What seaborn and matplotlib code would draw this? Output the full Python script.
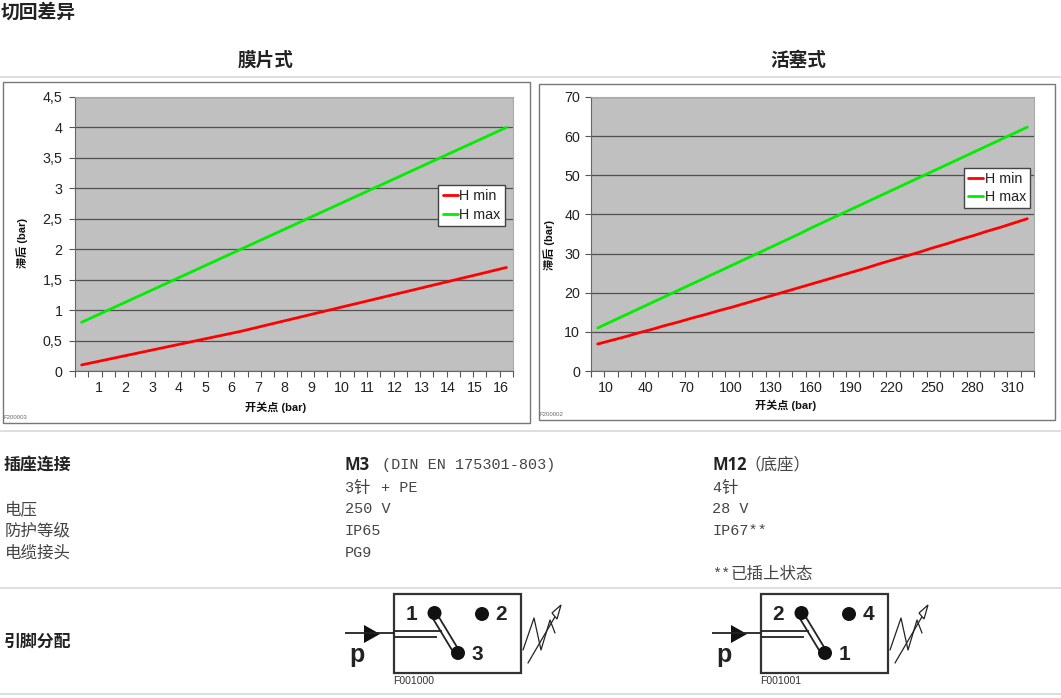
#!/usr/bin/env python3
import matplotlib
matplotlib.use('Agg')
import matplotlib.pyplot as plt
from matplotlib.patches import Circle, Polygon, Rectangle
import numpy as np
import pandas as pd
import seaborn as sns

W, H = 1061, 698

# diaphragm chart
left_labels = ['1', '2', '3', '4', '5', '6', '7', '8', '9', '10', '11', '12',
               '13', '14', '15', '16']
left_min = [0.100, 0.146, 0.192, 0.238, 0.284, 0.330, 0.376, 0.422, 0.468,
            0.514, 0.560, 0.606, 0.652, 0.704, 0.757, 0.809, 0.861, 0.914,
            0.966, 1.018, 1.071, 1.123, 1.175, 1.228, 1.280, 1.332, 1.385,
            1.437, 1.489, 1.542, 1.594, 1.647, 1.700]
left_max = [0.8, 0.9, 1.0, 1.1, 1.2, 1.3, 1.4, 1.5, 1.6, 1.7, 1.8, 1.9, 2.0,
            2.1, 2.2, 2.3, 2.4, 2.5, 2.6, 2.7, 2.8, 2.9, 3.0, 3.1, 3.2, 3.3,
            3.4, 3.5, 3.6, 3.7, 3.8, 3.9, 4.0]
left_yticks = [0, 0.5, 1, 1.5, 2, 2.5, 3, 3.5, 4, 4.5]
left_ylabels = ['0', '0,5', '1', '1,5', '2', '2,5', '3', '3,5', '4', '4,5']

# piston chart
right_labels = ['10', '40', '70', '100', '130', '160', '190', '220', '250',
                '280', '310']
right_min = [6.9, 7.8, 8.7, 9.7, 10.6, 11.6, 12.5, 13.5, 14.4, 15.4, 16.3,
             17.3, 18.3, 19.3, 20.3, 21.3, 22.3, 23.3, 24.3, 25.3, 26.3, 27.4,
             28.4, 29.4, 30.4, 31.5, 32.5, 33.6, 34.6, 35.7, 36.7, 37.8, 38.9]
right_max = [11.0, 12.6, 14.2, 15.8, 17.4, 19.0, 20.6, 22.2, 23.8, 25.4, 27.0,
             28.6, 30.2, 31.8, 33.4, 35.0, 36.7, 38.3, 39.9, 41.5, 43.1, 44.7,
             46.3, 47.9, 49.5, 51.1, 52.7, 54.3, 55.9, 57.5, 59.1, 60.7, 62.3]
right_yticks = [0, 10, 20, 30, 40, 50, 60, 70]

sns.set_theme(style='white')
plt.rcParams['font.family'] = ['Liberation Sans', 'Noto Sans CJK SC']
plt.rcParams['axes.unicode_minus'] = False

CJK = 'Noto Sans CJK SC'
BODY = '#444444'
PALETTE = {'H min': '#ff0000', 'H max': '#00ee00'}

fig = plt.figure(figsize=(W / 100, H / 100), dpi=100, facecolor='white')

# page layer in pixel coordinates
bg = fig.add_axes([0, 0, 1, 1])
bg.set_xlim(0, W)
bg.set_ylim(H, 0)
bg.axis('off')


def draw_chart(box, frame, lo, hi, yticks, ylabels, xlabels, step, ymax,
               legend_c, xlabel_pos, ylabel_pos, code, ypad):
    l, t, r, b = box
    fl, ft, fr, fb = frame
    bg.add_patch(Rectangle((fl, ft), fr - fl, fb - ft, fc='white', ec='#777777',
                           lw=1))
    bg.text(fl + 0.5, fb - 5, code, fontsize=4.3, color='#666666', va='center')

    ax = fig.add_axes([l / W, 1 - b / H, (r - l) / W, (b - t) / H])
    df = pd.DataFrame({'pos': np.arange(len(lo)), 'H min': lo, 'H max': hi})
    df = df.melt('pos', var_name='series', value_name='value')
    sns.lineplot(data=df, x='pos', y='value', hue='series', palette=PALETTE,
                 linewidth=2, ax=ax, zorder=3)
    for line in ax.get_lines():
        line.set_snap(False)

    ax.set_facecolor('#c0c0c0')
    ax.set_xlim(-0.5, len(lo) - 0.5)
    ax.set_ylim(0, ymax)
    ax.set_yticks(yticks, labels=ylabels)
    ax.set_xticks(np.arange(len(lo) + 1) - 0.5, labels=[])
    pos = np.arange(len(xlabels)) * step + (step - 1 if step == 2 else 0)
    ax.set_xticks(pos, labels=xlabels, minor=True, ha='left')
    ax.tick_params(axis='x', which='major', length=4, width=0.8, color='#555555',
                   direction='out', bottom=True)
    ax.tick_params(axis='x', which='minor', length=0, pad=7, labelsize=10.3,
                   labelcolor='#222222')
    ax.tick_params(axis='y', length=4, width=0.8, color='#555555', left=True,
                   pad=ypad, labelsize=10.3, labelcolor='#222222')
    ax.grid(axis='y', color='#505050', lw=0.9)
    ax.grid(axis='x', visible=False)
    ax.set_axisbelow(True)
    for side in ('left', 'bottom'):
        ax.spines[side].set_color('#666666')
        ax.spines[side].set_linewidth(0.8)
    for side in ('top', 'right'):
        ax.spines[side].set_color('#aaaaaa')
        ax.spines[side].set_linewidth(0.8)

    ax.set_xlabel('开关点 (bar)', fontsize=8, fontweight='bold', color='#111111')
    ax.set_ylabel('滞后 (bar)', fontsize=8, fontweight='bold', color='#111111')
    ax.xaxis.set_label_coords((xlabel_pos[0] - l) / (r - l),
                              (b - xlabel_pos[1] + 6) / (b - t))
    ax.yaxis.set_label_coords((ylabel_pos[0] + 5 - l) / (r - l),
                              (b - ylabel_pos[1]) / (b - t))

    handles, names = ax.get_legend_handles_labels()
    ax.legend(handles, names, loc='center', frameon=True, fancybox=False,
              framealpha=1, facecolor='white', edgecolor='#444444',
              fontsize=10.3, handlelength=1.05, handletextpad=0.12,
              labelspacing=0.3, borderpad=0.3, borderaxespad=0,
              labelcolor='#222222',
              bbox_to_anchor=((legend_c[0] - l) / (r - l),
                              (b - legend_c[1]) / (b - t)))
    return ax


draw_chart((75, 97, 513, 371), (3, 81.5, 529.5, 422.5), left_min, left_max,
           left_yticks, left_ylabels, left_labels, 2, 4.5, (471.5, 205.5),
           (276, 408), (23, 243), 'F200003', 5)
draw_chart((591, 97, 1034, 371), (538.5, 83.5, 1054.5, 419.5), right_min,
           right_max, right_yticks, [str(v) for v in right_yticks], right_labels,
           3, 70, (997, 188), (786, 406), (550, 245), 'F200002', 4)

# separators
for y in (77, 431, 588, 694):
    bg.plot([0, W], [y, y], color='#d8d8d8', lw=1.2, solid_capstyle='butt')


def head(x, y, s, size=12.2, **kw):
    bg.text(x, y, s, fontsize=size, fontweight='bold', family=CJK,
            color='#222222', va='center', **kw)


def body(x, y, s):
    # half width latin next to full width hanzi, like the original page font
    bg.text(x, y, s, fontsize=10.9, family=['Liberation Mono', CJK], color=BODY,
            va='center')


def hanzi(x, y, s):
    bg.text(x, y, s, fontsize=11.9, family=CJK, color=BODY, va='center')


head(1, 12, '切回差异', 13.5)
head(266, 60, '膜片式', 13.4, ha='center')
head(798, 60, '活塞式', 13.4, ha='center')
head(4, 465.5, '插座连接')
head(4, 641.5, '引脚分配')

hanzi(5, 510, '电压')
hanzi(5, 531, '防护等级')
hanzi(5, 553, '电缆接头')

bg.text(345, 465, 'M3', fontsize=12, fontweight='bold', family='Open Sans',
        color='#222222', va='center')
body(382, 465, '(DIN EN 175301-803)')
body(345, 488, '3')
hanzi(354, 488, '针')
body(381, 488, '+ PE')
body(345, 509, '250 V')
body(345, 531, 'IP65')
body(345, 553, 'PG9')

bg.text(712, 465, 'M12', fontsize=12, fontweight='bold', family='Open Sans',
        color='#222222', va='center')
hanzi(745, 465, '（底座）')
body(712, 488, '4')
hanzi(721, 488, '针')
body(712, 509, '28 V')
body(712, 531, 'IP67**')
body(712, 574, '**')
hanzi(731, 574, '已插上状态')


def schematic(dx, pins, code):
    k = dict(color='#222222', lw=1.3, solid_capstyle='butt')
    bg.add_patch(Rectangle((394 + dx, 594), 127, 79, fc='white', ec='#333333',
                           lw=1.6))
    bg.plot([345 + dx, 394 + dx], [633, 633], **k)
    bg.add_patch(Polygon([(364 + dx, 625), (380 + dx, 634), (364 + dx, 643)],
                         fc='#111111', ec='none'))
    bg.plot([394 + dx, 442 + dx], [631, 631], **k)
    bg.plot([394 + dx, 437 + dx], [637, 637], **k)
    bg.plot([432 + dx, 455 + dx], [617, 655], **k)
    bg.plot([437 + dx, 460 + dx], [614, 652], **k)
    for x, y in ((434.5, 613), (482, 614), (458, 653)):
        bg.add_patch(Circle((x + dx, y), 7, fc='#111111', ec='none', zorder=4))
    for (x, y), s in zip(((411.5, 614), (501, 614), (477, 655)), pins):
        bg.text(x + dx, y, s, fontsize=15, fontweight='bold', color='#222222',
                ha='center', va='center')
    bg.text(357 + dx, 655, 'p', fontsize=18, fontweight='bold', color='#222222',
            ha='center', va='center')
    bg.text(393 + dx, 681, code, fontsize=7.6, color='#333333', va='center')
    # adjustable spring
    n = dict(color='#222222', lw=0.9)
    bg.plot(np.array([523, 534, 541, 550, 555]) + dx, [650, 618, 650, 620, 633],
            **n)
    bg.plot(np.array([528, 556]) + dx, [663, 615], **n)
    bg.add_patch(Polygon([(561 + dx, 605), (552 + dx, 613), (557 + dx, 619)],
                         fc='white', ec='#222222', lw=0.9, zorder=3))


schematic(0, ['1', '2', '3'], 'F001000')
schematic(367, ['2', '4', '1'], 'F001001')

fig.savefig('out.png', dpi=100, facecolor='white')
